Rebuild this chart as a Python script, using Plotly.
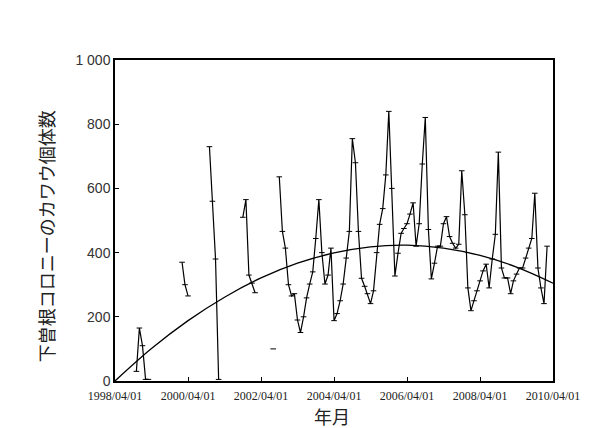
import pandas as pd
import plotly.graph_objects as go

# Monthly counts from 1998/04 (None = no survey)
counts = [
    None, None, None, None, None, None, None, 30, 165, 110, 5, 5,          # 1998/04-1999/03
    None, None, None, None, None, None, None, None, None, None, 370, 300,  # 1999/04-2000/03
    265, None, None, None, None, None, None, 730, 560, 380, 5, None,       # 2000/04-2001/03
    None, None, None, None, None, None, 510, 565, 330, 305, 275, None,     # 2001/04-2002/03
    None, None, None, None, 100, None, 636, 466, 414, 300, 265, 272,       # 2002/04-2003/03
    190, 151, 200, 259, 302, 340, 444, 565, 400, 302, 330, 414,            # 2003/04-2004/03
    188, 210, 250, 302, 383, 466, 755, 680, 466, 320, 295, 272,            # 2004/04-2005/03
    241, 281, 400, 488, 537, 642, 840, 600, 327, 398, 460, 475,            # 2005/04-2006/03
    490, 520, 555, 420, 490, 676, 821, 472, 318, 367, 420, 420,            # 2006/04-2007/03
    490, 512, 450, 429, 414, 426, 655, 518, 290, 219, 250, 281,            # 2007/04-2008/03
    312, 343, 364, 290, 380, 457, 713, 352, 321, 321, 272, 312,            # 2008/04-2009/03
    333, 352, 352, 383, 414, 444, 585, 352, 290, 241, 420, None,           # 2009/04-2010/03
]
months = pd.date_range("1998-04-01", periods=len(counts), freq="MS")

# Trend curve read at each April 1
trend_dates = [f"{y}-04-01" for y in range(1998, 2011)]
trend_vals = [0, 101, 188, 261, 321, 367, 399, 418, 423, 414, 391, 355, 305]

tick_dates = [f"{y}-04-01" for y in range(1998, 2011, 2)]
tick_text = [f"{y}/04/01" for y in range(1998, 2011, 2)]
y_ticks = [0, 200, 400, 600, 800, 1000]
y_text = ["0", "200", "400", "600", "800", "1 000"]

fig = go.Figure()
fig.add_trace(go.Scatter(
    x=months, y=counts, mode="lines+markers",
    line=dict(color="black", width=1.2),
    marker=dict(symbol="line-ew-open", size=4, line=dict(color="black", width=1)),
    connectgaps=False, showlegend=False,
))
fig.add_trace(go.Scatter(
    x=trend_dates, y=trend_vals, mode="lines",
    line=dict(color="black", width=1.3, shape="spline"),
    showlegend=False,
))

# page body adds an 8px margin, so the figure is 8px smaller on each side
fig.update_layout(
    width=604, height=420,
    margin=dict(l=107, r=59, t=52, b=47),
    paper_bgcolor="white", plot_bgcolor="white",
    font=dict(family="Liberation Sans", color="#222"),
)
fig.update_xaxes(
    type="date", range=["1998-04-01", "2010-04-01"],
    tickvals=tick_dates, ticktext=tick_text,
    tickfont=dict(family="Liberation Serif", size=12, color="#222"),
    ticks="inside", ticklen=4, tickcolor="black", ticklabelstandoff=3,
    showline=True, linecolor="black", linewidth=1.5, mirror=True,
    showgrid=False, zeroline=False,
)
fig.update_yaxes(
    range=[0, 1000], tickvals=y_ticks, ticktext=y_text,
    tickfont=dict(family="Liberation Sans", size=14, color="#333"),
    ticks="inside", ticklen=4, tickcolor="black",
    showline=True, linecolor="black", linewidth=1.5, mirror=True,
    showgrid=False, zeroline=False,
)
fig.add_annotation(
    text="下曽根コロニーのカワウ個体数", xref="paper", yref="paper",
    x=-0.158, y=0.45, xanchor="center", yanchor="middle", textangle=-90,
    showarrow=False, font=dict(family="Noto Sans CJK JP", size=18, color="#222"),
)
fig.add_annotation(
    text="年月", xref="paper", yref="paper",
    x=0.495, y=-0.064, xanchor="center", yanchor="top", borderpad=0,
    showarrow=False, font=dict(family="Noto Sans CJK JP", size=18, color="#222"),
)

fig.write_html("out.html")
